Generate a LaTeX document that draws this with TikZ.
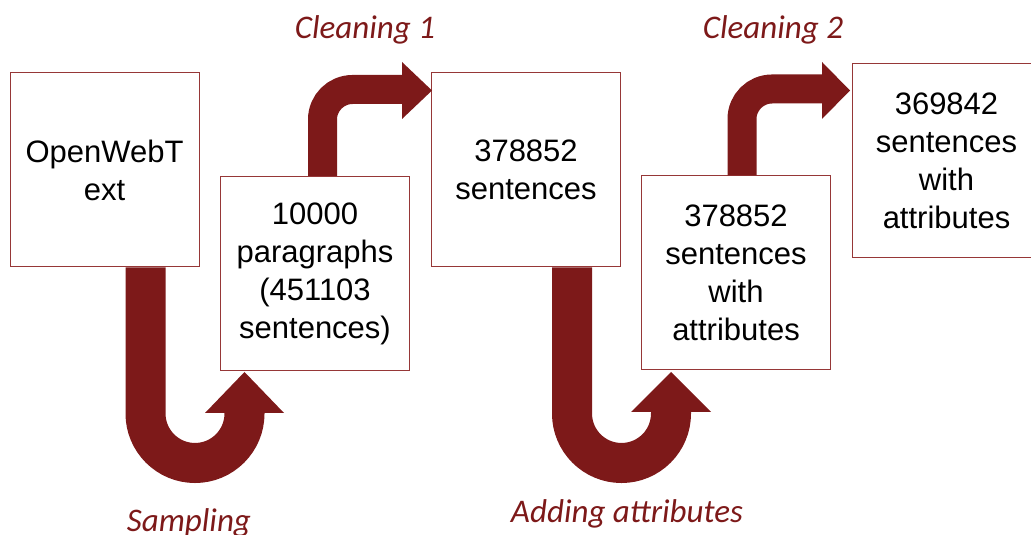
\documentclass[tikz,border=0pt]{standalone}
\usepackage{fontspec}
\setmainfont{Liberation Sans}
\newfontfamily\labelfont{Carlito}
\usepackage{tikz}
\usepackage{xcolor}
\definecolor{ColA}{RGB}{125,25,25}
\definecolor{ColB}{RGB}{150,55,55}
\tikzstyle{NodeBox}=[rectangle,draw=ColB,fill=white,line width=1pt,minimum width=189pt,
minimum height=194pt,inner sep=0pt,align=center,font=\fontsize{31}{38}\selectfont]
\tikzstyle{EdgeWide}=[ColA,line width=40pt,rounded corners=49.5pt]
\tikzstyle{EdgeNarrow}=[ColA,line width=29pt,rounded corners=30pt]
\tikzstyle{StepLabel}=[anchor=base,text=ColA,inner sep=0pt,
font=\labelfont\itshape\fontsize{33}{40}\selectfont]

\begin{document}
\begin{tikzpicture}[x=1pt,y=1pt]
        \useasboundingbox(0,0)rectangle(1031,535);
        \clip(0,0)rectangle(1031,535);
        \node[NodeBox](a)at(104.5,365){OpenWebT\\ext};
        \node[NodeBox](b)at(315,261.5){10000\\paragraphs\\(451103\\sentences)};
        \node[NodeBox](c)at(526,365){378852\\sentences};
        \node[NodeBox](d)at(736,262){378852\\sentences\\with\\attributes};
        \node[NodeBox](e)at(946.5,374){369842\\sentences\\with\\attributes};
        \coordinate(TipA)at(244.5,163);
        \coordinate(TipB)at(432,444.5);
        \coordinate(TipC)at(671,163);
        \coordinate(TipD)at(850,444.5);
        % sampling
        \draw[EdgeWide]([xshift=41pt]a.south)--++(0,-195.5)--++(99,0)--++(0,52.5);
        \fill[ColA](TipA)--++(39.5,-41)--++(-79,0)--cycle;
        % cleaning 1
        \draw[EdgeNarrow]([xshift=7.5pt]b.north)--++(0,86.5)--++(81.5,0);
        \fill[ColA](TipB)--++(-30,28.5)--++(0,-57)--cycle;
        % adding attributes
        \draw[EdgeWide]([xshift=46pt]c.south)--++(0,-195.5)--++(99,0)--++(0,52.5);
        \fill[ColA](TipC)--++(40,-40)--++(-80,0)--cycle;
        % cleaning 2
        \draw[EdgeNarrow]([xshift=6pt]d.north)--++(0,86.5)--++(82,0);
        \fill[ColA](TipD)--++(-28,28.5)--++(0,-57)--cycle;
        \node[StepLabel](la)at(189,3){Sampling};
        \node[StepLabel](lb)at(365,496){Cleaning 1};
        \node[StepLabel](lc)at(627,12){Adding attributes};
        \node[StepLabel](ld)at(773,496){Cleaning 2};
    \end{tikzpicture}
\end{document}
